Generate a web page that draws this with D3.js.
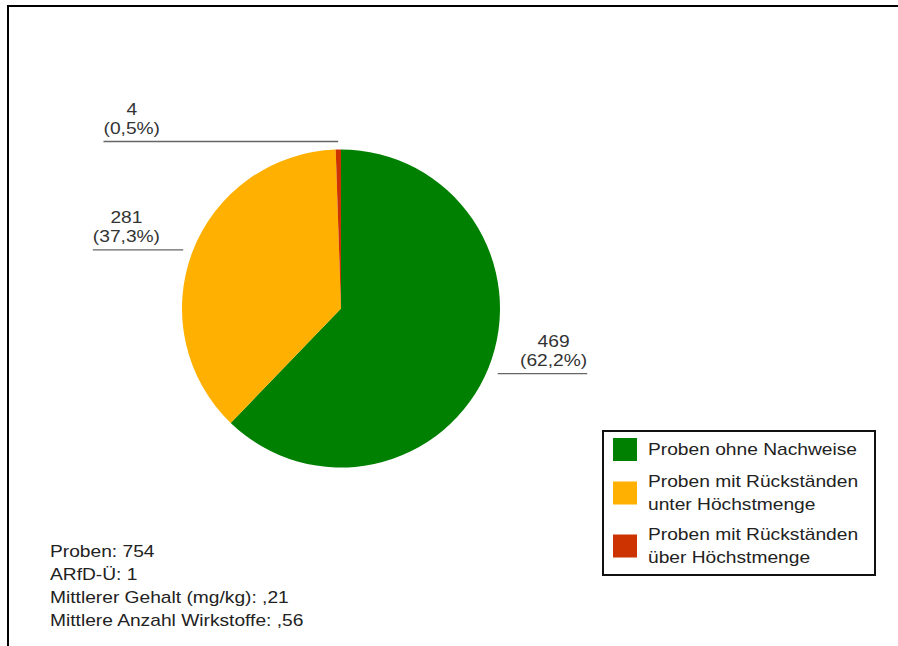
<!DOCTYPE html>
<html>
<head>
<meta charset="utf-8">
<script src="https://cdn.jsdelivr.net/npm/d3@7/dist/d3.min.js"></script>
<style>
  html, body { margin: 0; padding: 0; background: #fff; }
  svg { display: block; }
  text { font-family: "Liberation Sans", Arial, sans-serif; }
</style>
</head>
<body>
<svg id="chart" width="898" height="646"></svg>
<script>
// Sample counts per residue category
const categories = [
  "Proben ohne Nachweise",
  "Proben mit Rückständen unter Höchstmenge",
  "Proben mit Rückständen über Höchstmenge"
];
const legendLines = [
  ["Proben ohne Nachweise"],
  ["Proben mit Rückständen", "unter Höchstmenge"],
  ["Proben mit Rückständen", "über Höchstmenge"]
];
const counts = [469, 281, 4];
const percentLabels = ["62,2%", "37,3%", "0,5%"];
const colors = ["#008000", "#ffb000", "#cc3300"];
const summaryLines = [
  "Proben: 754",
  "ARfD-Ü: 1",
  "Mittlerer Gehalt (mg/kg): ,21",
  "Mittlere Anzahl Wirkstoffe: ,56"
];

const svg = d3.select("#chart");
const W = 898, H = 646;
const FONT = 16, SX = 1.2;   // glyphs drawn slightly wide

// Helper: text with horizontal stretch
function addText(parent, x, y, str, anchor, fill) {
  return parent.append("text")
    .attr("transform", `translate(${x},${y}) scale(${SX},1)`)
    .attr("text-anchor", anchor || "start")
    .attr("font-size", FONT)
    .attr("fill", fill || "#222")
    .text(str);
}

// Outer frame (top and left edges)
svg.append("path")
  .attr("d", `M8,${H} L8,6 L${W},6`)
  .attr("fill", "none")
  .attr("stroke", "#000")
  .attr("stroke-width", 2);

// Pie
const cx = 341, cy = 308.5, R = 159;
const pie = d3.pie().sort(null).value(d => d);
const arcs = pie(counts);
const arc = d3.arc().innerRadius(0).outerRadius(R);

const g = svg.append("g").attr("transform", `translate(${cx},${cy})`);
g.selectAll("path.slice")
  .data(arcs)
  .join("path")
  .attr("class", "slice")
  .attr("d", arc)
  .attr("fill", (d, i) => colors[i]);

// Slice labels with horizontal leader lines
const labelR = 169;
const leftCol = 160, rightCol = 520;
const labelLayer = svg.append("g");
arcs.forEach((d, i) => {
  const a = (d.startAngle + d.endAngle) / 2;
  const px = cx + Math.sin(a) * labelR;
  const ly = cy - Math.cos(a) * labelR + 2;
  const right = Math.sin(a) > 0;
  const lines = [String(counts[i]), `(${percentLabels[i]})`];

  // measure block width
  const tmp = lines.map(s => addText(labelLayer, 0, 0, s, "start"));
  const w = d3.max(tmp, t => t.node().getComputedTextLength() * SX);
  tmp.forEach(t => t.remove());

  const blockCx = right ? rightCol + w / 2 : leftCol - w / 2;
  const outerX = right ? rightCol + w : leftCol - w;

  labelLayer.append("line")
    .attr("x1", Math.min(px, outerX)).attr("x2", Math.max(px, outerX))
    .attr("y1", ly).attr("y2", ly)
    .attr("stroke", "#666")
    .attr("stroke-width", 1.3);

  addText(labelLayer, blockCx, ly - 27, lines[0], "middle", "#333");
  addText(labelLayer, blockCx, ly - 8, lines[1], "middle", "#333");
});

// Legend
const legend = svg.append("g");
legend.append("rect")
  .attr("x", 603).attr("y", 431)
  .attr("width", 272).attr("height", 144)
  .attr("fill", "#fff")
  .attr("stroke", "#111")
  .attr("stroke-width", 2);

const rowBaseline = [455, 487, 540];
const lineGap = 23;
legendLines.forEach((lines, i) => {
  const first = rowBaseline[i];
  const last = first + (lines.length - 1) * lineGap;
  const mid = (first + last) / 2 - 5.5;
  legend.append("rect")
    .attr("x", 613).attr("y", mid - 11.5)
    .attr("width", 24).attr("height", 23)
    .attr("fill", colors[i]);
  lines.forEach((s, j) => {
    addText(legend, 648, first + j * lineGap, s, "start", "#222");
  });
});

// Summary statistics
summaryLines.forEach((s, i) => {
  addText(svg, 50, 557 + i * 23, s, "start", "#222");
});
</script>
</body>
</html>
